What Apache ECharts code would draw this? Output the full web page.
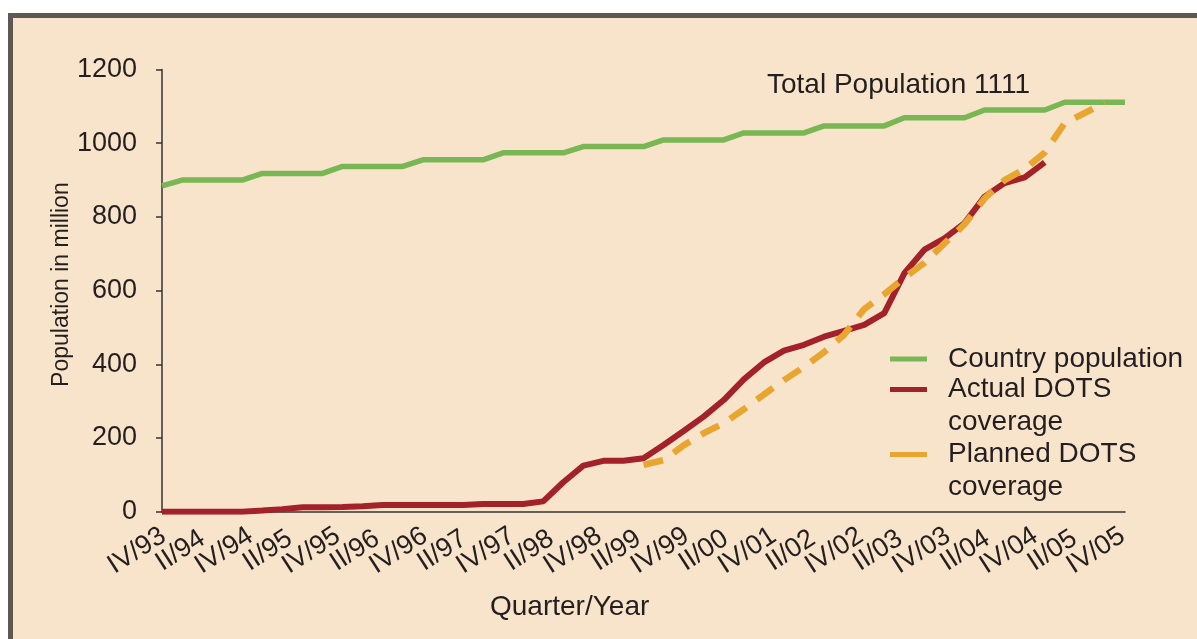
<!DOCTYPE html>
<html>
<head>
<meta charset="utf-8">
<script src="https://cdn.jsdelivr.net/npm/echarts@6/dist/echarts.min.js"></script>
<style>
html,body{margin:0;padding:0;background:#ffffff;}
#c{width:1197px;height:639px;}
</style>
</head>
<body>
<div id="c"></div>
<script>
// Quarters (data categories)
const quarters = [
  'IV/93',
  'I/94','II/94','III/94','IV/94',
  'I/95','II/95','III/95','IV/95',
  'I/96','II/96','III/96','IV/96',
  'I/97','II/97','III/97','IV/97',
  'I/98','II/98','III/98','IV/98',
  'I/99','II/99','III/99','IV/99',
  'I/00','II/00','III/00','IV/00',
  'I/01','II/01','III/01','IV/01',
  'I/02','II/02','III/02','IV/02',
  'I/03','II/03','III/03','IV/03',
  'I/04','II/04','III/04','IV/04',
  'I/05','II/05','III/05','IV/05'
];
// Tick labels as printed on the chart
const tickLabels = [
  'IV/93','II/94','IV/94','II/95','IV/95','II/96','IV/96','II/97','IV/97',
  'II/98','IV/98','II/99','IV/99','II/00','IV/01','II/02','IV/02','II/03',
  'IV/03','II/04','IV/04','II/05','IV/05'
];
const countryPopulation = [
  884,
  900,900,900,900,
  918,918,918,918,
  937,937,937,937,
  955,955,955,955,
  974,974,974,974,
  991,991,991,991,
  1009,1009,1009,1009,
  1028,1028,1028,1028,
  1047,1047,1047,1047,
  1069,1069,1069,1069,
  1090,1090,1090,1090,
  1111,1111,1111,1111
];
const actualCoverage = [
  0,
  0,0,0,0,
  3,7,12,12,
  13,15,18,18,
  18,18,18,21,
  21,21,28,80,
  125,138,138,145,
  181,219,258,303,
  359,405,437,453,
  475,491,507,539,
  647,711,742,783,
  855,892,907,948,
  null,null,null,null
];
const plannedCoverage = [
  null,
  null,null,null,null,
  null,null,null,null,
  null,null,null,null,
  null,null,null,null,
  null,null,null,null,
  null,null,null,127,
  140,180,213,240,
  278,318,357,393,
  433,480,550,590,
  635,675,728,780,
  850,900,930,975,
  1055,1082,1111,null
];
const seriesNames = ['Country population', 'Actual DOTS\ncoverage', 'Planned DOTS\ncoverage'];
const yMin = 0, yMax = 1200, yStep = 200;

const FONT = '"Liberation Sans", Arial, Helvetica, sans-serif';
const TXT = '#231f20';
const GREEN = '#78b754';
const RED = '#a32129';
const ORANGE = '#e8a631';

const chart = echarts.init(document.getElementById('c'), null, {renderer: 'canvas'});

function legendFor(name, top, multi) {
  return {
    data: [name],
    left: 890,
    top: top,
    padding: 0,
    orient: 'vertical',
    icon: 'rect',
    itemWidth: 37,
    itemHeight: 5,
    selectedMode: false,
    // a blank first line keeps the icon level with the first text line
    formatter: multi ? function (n) { return '\u00a0\n' + n; } : '{name}',
    textStyle: {
      fontFamily: FONT, fontSize: 28, color: TXT, lineHeight: 33,
      padding: [0, 0, 0, 16]
    }
  };
}

const option = {
  backgroundColor: '#ffffff',
  animation: false,
  graphic: [{
    type: 'rect', z: -100, silent: true,
    shape: {x: 10.5, y: 15.5, width: 1300, height: 700},
    style: {fill: '#f8e4ca', stroke: '#5e5853', lineWidth: 5}
  }],
  title: [
    {text: 'Total Population 1111', left: 767, top: 71, padding: 0,
     textStyle: {fontFamily: FONT, fontSize: 28, fontWeight: 'normal', color: TXT}},
    {text: 'Quarter/Year', left: 490, top: 593, padding: 0,
     textStyle: {fontFamily: FONT, fontSize: 28, fontWeight: 'normal', color: TXT}}
  ],
  legend: [
    legendFor(seriesNames[0], 342.5, false),
    legendFor(seriesNames[1], 340, true),
    legendFor(seriesNames[2], 405, true)
  ],
  grid: [
    {left: 162, right: 72, top: 69.5, bottom: 127.3},
    {left: 137, right: 101, top: 69.5, bottom: 127.3}
  ],
  xAxis: [
    {type: 'category', gridIndex: 0, data: quarters, boundaryGap: false,
     axisLine: {show: true, onZero: false, lineStyle: {color: '#333333', width: 1.5}},
     axisTick: {show: false}, axisLabel: {show: false}, splitLine: {show: false}},
    {type: 'category', gridIndex: 1, data: tickLabels, boundaryGap: false, position: 'bottom',
     axisLine: {show: false}, axisTick: {show: false}, splitLine: {show: false},
     axisLabel: {show: true, interval: 0, rotate: 33, align: 'center', verticalAlign: 'middle',
       margin: 39, fontFamily: FONT, fontSize: 27, color: TXT}}
  ],
  yAxis: [
    {type: 'value', gridIndex: 0, min: yMin, max: yMax, interval: yStep,
     name: 'Population in million', nameLocation: 'middle', nameGap: 89, nameMoveOverlap: false,
     nameTextStyle: {fontFamily: FONT, fontSize: 23, color: TXT, padding: [0, 0, 0, 12]},
     axisLine: {show: true, lineStyle: {color: '#333333', width: 1.5}},
     axisTick: {show: true, inside: false, length: 6, lineStyle: {color: '#333333', width: 1.5}},
     axisLabel: {margin: 25, fontFamily: FONT, fontSize: 27, color: TXT,
       formatter: function (v) { return String(v); }},
     splitLine: {show: false}},
    {type: 'value', gridIndex: 1, min: yMin, max: yMax, show: false}
  ],
  series: [
    {name: seriesNames[0], type: 'line', xAxisIndex: 0, yAxisIndex: 0, data: countryPopulation,
     symbol: 'none', itemStyle: {color: GREEN}, lineStyle: {color: GREEN, width: 5.5}, z: 2},
    {name: seriesNames[1], type: 'line', xAxisIndex: 0, yAxisIndex: 0, data: actualCoverage,
     symbol: 'none', itemStyle: {color: RED}, lineStyle: {color: RED, width: 6}, z: 3},
    {name: seriesNames[2], type: 'line', xAxisIndex: 0, yAxisIndex: 0, data: plannedCoverage,
     symbol: 'none', itemStyle: {color: ORANGE}, lineStyle: {color: ORANGE, width: 6.5, type: [20, 13]}, z: 4}
  ]
};
chart.setOption(option);
</script>
</body>
</html>
